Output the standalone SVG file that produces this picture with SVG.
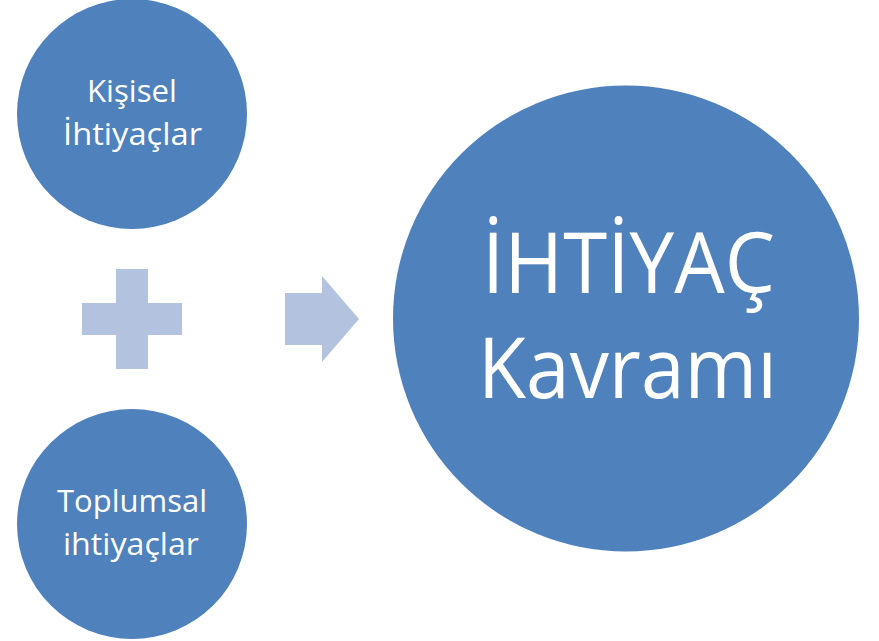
<svg xmlns="http://www.w3.org/2000/svg" width="879" height="641" viewBox="0 0 879 641">
<style>
.node{fill:#4F81BD}
.op{fill:#B3C3DF}
text{fill:#FFFFFF;font-family:"Open Sans","Liberation Sans",sans-serif;text-anchor:middle}
.s{font-size:31px}
.b{font-size:85px}
</style>
<rect width="879" height="641" fill="#FFFFFF"/>
<g id="kisisel">
<circle class="node" cx="132" cy="114" r="115"/>
<text class="s" x="132" y="102" textLength="90" lengthAdjust="spacingAndGlyphs">Kişisel</text>
<text class="s" x="132.5" y="145" textLength="139" lengthAdjust="spacingAndGlyphs">İhtiyaçlar</text>
</g>
<g id="toplumsal">
<circle class="node" cx="132" cy="524" r="115"/>
<text class="s" x="132" y="512" textLength="150" lengthAdjust="spacingAndGlyphs">Toplumsal</text>
<text class="s" x="131" y="555" textLength="136" lengthAdjust="spacingAndGlyphs">ihtiyaçlar</text>
</g>
<g id="ihtiyac">
<circle class="node" cx="626" cy="318.5" r="233"/>
<text class="b" x="628.5" y="293" textLength="293" lengthAdjust="spacingAndGlyphs">İHTİYAÇ</text>
<text class="b" x="627.5" y="398" textLength="299" lengthAdjust="spacingAndGlyphs">Kavramı</text>
</g>
<g id="connectors">
<path id="plus" class="op" d="M116,269 H148 V303 H182 V335 H148 V369 H116 V335 H82 V303 H116 Z"/>
<path id="arrow" class="op" d="M285,293 H322 V276 L359,319 L322,362 V345 H285 Z"/>
</g>
</svg>
